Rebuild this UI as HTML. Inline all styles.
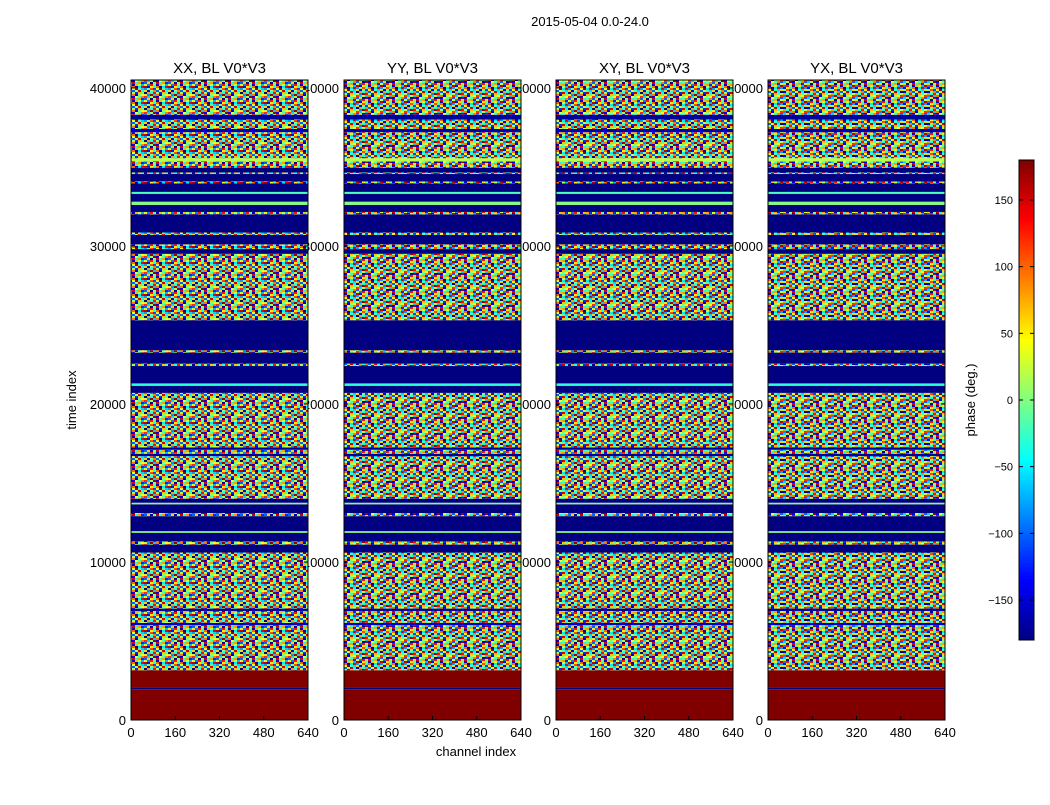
<!DOCTYPE html>
<html><head><meta charset="utf-8">
<style>
html,body{margin:0;padding:0;background:#fff;}
svg text{font-family:"Liberation Sans","DejaVu Sans",sans-serif;}
</style></head>
<body>
<svg id="chart" width="1050" height="800" viewBox="0 0 1050 800" xmlns="http://www.w3.org/2000/svg">
<rect width="1050" height="800" fill="#fff"/>
<text x="590" y="26" font-size="13" text-anchor="middle">2015-05-04 0.0-24.0</text>
<text x="0" y="0" font-size="13" text-anchor="middle" transform="translate(76,400) rotate(-90)">time index</text>
<text x="476" y="756" font-size="13" text-anchor="middle">channel index</text>
<g id="labels"></g>
<g id="panels"></g>
<g id="cbar"></g>
</svg>
<script>
const panelTitles = ["XX, BL V0*V3","YY, BL V0*V3","XY, BL V0*V3","YX, BL V0*V3"];
const yTicks = [0,10000,20000,30000,40000];
const xTicks = [0,160,320,480,640];
const cbTicks = [150,100,50,0,-50,-100,-150];
// time bands: start of each band (last entry = end), value ('n' = noisy phase, number = flat phase)
const bandStart = [0,1950,2050,3150,6000,6150,6900,7050,10600,11100,11300,11850,11950,12900,13100,13650,13750,14000,16700,16850,17100,17250,20700,21150,21300,22400,22550,23250,23400,25300,
  29500,29800,30100,30700,30850,32000,32150,32600,32800,33300,33420,33950,34080,34550,34650,34950,35350,35550,37200,37400,38000,38300,40500];
const bandValue = [180,-180,180,'n',-150,'n',-170,'n',-180,'n',-180,0,-180,'n',-180,0,-180,'n',-170,'n',-170,'n',-180,-30,-180,'n',-180,'n',-180,'n',
  -180,'n',-180,'n',-180,'n',-180,0,-180,-20,-180,'n',-180,'n',-180,'n',20,'n',-160,'n',-170,'n'];
// noise tile phase samples (deg)
const noiseVals = [120,-60,10,170,-140,40,-20,90,-100,60,-170,0,150,-40,80,-120,30,-90,130,-10,-150,70,20,-70,160,-130,50,-30,100,-160,-50,140,-80,0,110,-110,40,175,-20,-60,60,-140,-5,90,-100,20,150,-45,-175,80,-35,130,10,-120,65,-15,25,-85,170,-65,95,-150,5,45];
const tMax = 40500, chMax = 640;
const panelX = [131,344,556,768], panelW = 177, plotTop = 80, plotBottom = 720;
const NS = "http://www.w3.org/2000/svg";
function mk(tag, attrs, parent){const e=document.createElementNS(NS,tag);for(const k in attrs)e.setAttribute(k,attrs[k]);parent.appendChild(e);return e;}
function jet(v){
  let x=(v+180)/360; x=Math.max(0,Math.min(1,x));
  const f=t=>Math.max(0,Math.min(1,t));
  const r=f(Math.min(4*x-1.5,-4*x+4.5)), g=f(Math.min(4*x-0.5,-4*x+3.5)), b=f(Math.min(4*x+0.5,-4*x+2.5));
  return `rgb(${Math.round(r*255)},${Math.round(g*255)},${Math.round(b*255)})`;
}
function yScale(t){return plotBottom-(t/tMax)*(plotBottom-plotTop);}
const svgEl=document.getElementById('chart');
const defsEl=mk('defs',{},svgEl);
for(let p=0;p<4;p++){
  const pat=mk('pattern',{id:'noise'+p,patternUnits:'userSpaceOnUse',width:24,height:16,x:p*5,y:p*3},defsEl);
  for(let i=0;i<64;i++){
    const c=i%8, r=Math.floor(i/8);
    mk('rect',{x:c*3,y:r*2,width:3,height:2,fill:jet(noiseVals[(i+p*11)%64])},pat);
  }
}
const labelsG=document.getElementById('labels'), panelsG=document.getElementById('panels');
panelX.forEach((px,p)=>{
  const xs=ch=>px+(ch/chMax)*panelW;
  yTicks.forEach(t=>{
    const l=mk('text',{x:px-5,y:yScale(t)+5,'font-size':13,'text-anchor':'end'},labelsG);
    
    
    l.textContent=t;
  });
  xTicks.forEach(v=>{
    const l=mk('text',{x:xs(v),y:737,'font-size':13,'text-anchor':'middle'},labelsG);
    
    
    l.textContent=v;
  });
  const tt=mk('text',{x:px+panelW/2,y:73,'font-size':15,'text-anchor':'middle'},labelsG);
  
  
  tt.textContent=panelTitles[p];
  const g=mk('g',{},panelsG);
  
  
  for(let i=0;i<bandValue.length;i++){
    const y0=yScale(bandStart[i+1]), y1=yScale(bandStart[i]);
    const v=bandValue[i];
    const r=mk('rect',{x:px,y:y0,width:panelW,height:Math.max(0.8,y1-y0),fill:v==='n'?`url(#noise${p})`:jet(v)},g);
    
    
  }
  const fr=mk('rect',{x:px,y:plotTop,width:panelW,height:plotBottom-plotTop,fill:'none',stroke:'#000','stroke-width':1},g);
  
  
  xTicks.forEach(v=>{
    mk('line',{x1:xs(v),x2:xs(v),y1:plotBottom,y2:plotBottom-4,stroke:'#000'},g);
  });
  yTicks.forEach(t=>{
    mk('line',{x1:px,x2:px+4,y1:yScale(t),y2:yScale(t),stroke:'#000'},g);
    mk('line',{x1:px+panelW,x2:px+panelW-4,y1:yScale(t),y2:yScale(t),stroke:'#000'},g);
  });
});
const cb=document.getElementById('cbar');


const cbX=1019,cbW=15,cbTop=160,cbBot=640;
const cy=v=>cbBot-(v+180)/360*(cbBot-cbTop);
for(let v=-180;v<180;v+=2){
  mk('rect',{x:cbX,y:cy(v+2),width:cbW,height:(cbBot-cbTop)/180+0.3,fill:jet(v+1)},cb);
}
mk('rect',{x:cbX,y:cbTop,width:cbW,height:cbBot-cbTop,fill:'none',stroke:'#000'},cb);
cbTicks.forEach(v=>{
  mk('line',{x1:cbX,x2:cbX+4,y1:cy(v),y2:cy(v),stroke:'#000'},cb);
  mk('line',{x1:cbX+cbW,x2:cbX+cbW-4,y1:cy(v),y2:cy(v),stroke:'#000'},cb);
  const l=mk('text',{x:1013,y:cy(v)+4,'font-size':11,'text-anchor':'end'},cb);
  
  
  l.textContent=v<0?'\u2212'+(-v):String(v);
});
const ct=mk('text',{x:0,y:0,'font-size':13,'text-anchor':'middle',transform:'translate(975,400) rotate(-90)'},cb);


ct.textContent='phase (deg.)';
</script>
</body></html>
